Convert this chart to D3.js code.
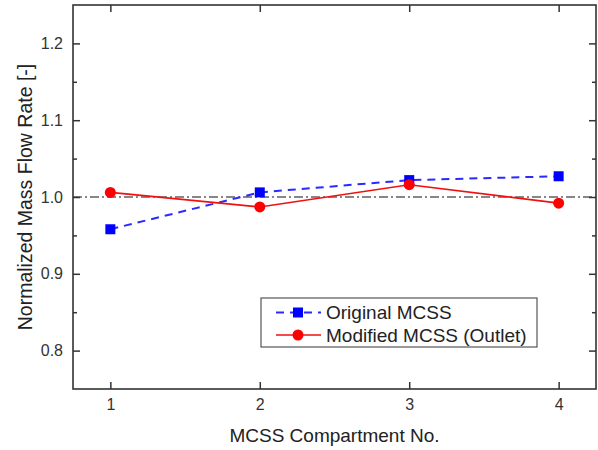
<!DOCTYPE html>
<html>
<head>
<meta charset="utf-8">
<script src="https://cdn.jsdelivr.net/npm/d3@7"></script>
<style>
  body { margin: 0; background: #fff; }
  text { font-family: "Liberation Sans", Arial, sans-serif; fill: #333; }
</style>
</head>
<body>
<div id="chart"></div>
<script>
// data
var compartments = [1, 2, 3, 4];
var originalMCSS = [0.958, 1.006, 1.022, 1.027];
var modifiedMCSS = [1.006, 0.987, 1.016, 0.992];
var yTicks = [0.8, 0.9, 1.0, 1.1, 1.2];
var yMinorTicks = [0.85, 0.95, 1.05, 1.15];
var seriesNames = ["Original MCSS", "Modified MCSS (Outlet)"];

var width = 598, height = 450;
var margin = { top: 5, right: 2, bottom: 61, left: 73 };

var svg = d3.select("#chart").append("svg")
    .attr("width", width)
    .attr("height", height);

var x = d3.scaleLinear()
    .domain([0.75, 4.25])
    .range([margin.left, width - margin.right]);

var y = d3.scaleLinear()
    .domain([0.75, 1.25])
    .range([height - margin.bottom, margin.top]);

// reference line at 1.0
svg.append("line")
    .attr("x1", x(0.75)).attr("x2", x(4.25))
    .attr("y1", y(1.0)).attr("y2", y(1.0))
    .style("stroke", "#111")
    .style("stroke-width", 1.2)
    .style("stroke-dasharray", "9,3,2,3");

// axes, ticks pointing inward
var tickLen = 7;
svg.append("g")
    .attr("transform", "translate(0," + y(0.75) + ")")
    .call(d3.axisBottom(x).tickValues(compartments).tickFormat(d3.format("d")).tickSizeInner(-tickLen).tickSizeOuter(0).tickPadding(10))
    .call(g => g.select(".domain").remove());

svg.append("g")
    .attr("transform", "translate(0," + y(1.25) + ")")
    .call(d3.axisTop(x).tickValues(compartments).tickFormat("").tickSizeInner(-tickLen).tickSizeOuter(0))
    .call(g => g.select(".domain").remove());

svg.append("g")
    .attr("transform", "translate(" + x(0.75) + ",0)")
    .call(d3.axisLeft(y).tickValues(yTicks).tickFormat(d3.format(".1f")).tickSizeInner(-tickLen).tickSizeOuter(0).tickPadding(10))
    .call(g => g.select(".domain").remove());

svg.append("g")
    .attr("transform", "translate(" + x(0.75) + ",0)")
    .call(d3.axisLeft(y).tickValues(yMinorTicks).tickFormat("").tickSizeInner(-4).tickSizeOuter(0))
    .call(g => g.select(".domain").remove());

svg.append("g")
    .attr("transform", "translate(" + x(4.25) + ",0)")
    .call(d3.axisRight(y).tickValues(yTicks).tickFormat("").tickSizeInner(-tickLen).tickSizeOuter(0))
    .call(g => g.select(".domain").remove());

svg.append("g")
    .attr("transform", "translate(" + x(4.25) + ",0)")
    .call(d3.axisRight(y).tickValues(yMinorTicks).tickFormat("").tickSizeInner(-4).tickSizeOuter(0))
    .call(g => g.select(".domain").remove());

svg.selectAll(".tick line").style("stroke", "#333").style("stroke-width", 1.5);
svg.selectAll(".tick text").style("font-size", "16px").style("fill", "#333")
    .style("font-family", "'Liberation Sans', Arial, sans-serif");

// frame
svg.append("rect")
    .attr("x", x(0.75)).attr("y", y(1.25))
    .attr("width", x(4.25) - x(0.75))
    .attr("height", y(0.75) - y(1.25))
    .style("fill", "none")
    .style("stroke", "#333")
    .style("stroke-width", 1.6);

// series
var line = d3.line()
    .x((d, i) => x(compartments[i]))
    .y(d => y(d));

svg.append("path")
    .datum(originalMCSS)
    .attr("d", line)
    .style("fill", "none")
    .style("stroke", "#2a2aff")
    .style("stroke-width", 2)
    .style("stroke-dasharray", "8,6");

svg.append("path")
    .datum(modifiedMCSS)
    .attr("d", line)
    .style("fill", "none")
    .style("stroke", "#f01010")
    .style("stroke-width", 1.6);

svg.append("g").selectAll("rect")
    .data(originalMCSS)
    .enter().append("rect")
    .attr("x", (d, i) => x(compartments[i]) - 5)
    .attr("y", d => y(d) - 5)
    .attr("width", 10).attr("height", 10)
    .style("fill", "#0000ff");

svg.append("g").selectAll("circle")
    .data(modifiedMCSS)
    .enter().append("circle")
    .attr("cx", (d, i) => x(compartments[i]))
    .attr("cy", d => y(d))
    .attr("r", 5.5)
    .style("fill", "#ff0000");

// legend
var legend = svg.append("g").attr("transform", "translate(261,298)");
legend.append("rect")
    .attr("width", 276).attr("height", 49)
    .style("fill", "#fff")
    .style("stroke", "#555")
    .style("stroke-width", 1.2);

var rows = legend.selectAll("g.row")
    .data(seriesNames)
    .enter().append("g")
    .attr("class", "row")
    .attr("transform", (d, i) => "translate(0," + (14.5 + i * 22.5) + ")");

rows.append("line")
    .attr("x1", 15).attr("x2", 60)
    .style("stroke", (d, i) => i === 0 ? "#2a2aff" : "#f01010")
    .style("stroke-width", (d, i) => i === 0 ? 2 : 1.6)
    .style("stroke-dasharray", (d, i) => i === 0 ? "8,6" : null);

rows.filter((d, i) => i === 0).append("rect")
    .attr("x", 32).attr("y", -5).attr("width", 10).attr("height", 10)
    .style("fill", "#0000ff");

rows.filter((d, i) => i === 1).append("circle")
    .attr("cx", 37).attr("r", 5.5)
    .style("fill", "#ff0000");

rows.append("text")
    .attr("x", 65).attr("dy", "0.35em")
    .style("font-size", "19px")
    .style("fill", "#222")
    .text(d => d);

// axis titles
svg.append("text")
    .attr("x", x(2.5)).attr("y", 442)
    .attr("text-anchor", "middle")
    .style("font-size", "19px")
    .style("fill", "#222")
    .text("MCSS Compartment No.");

svg.append("text")
    .attr("transform", "translate(32," + y(1.0) + ") rotate(-90)")
    .attr("text-anchor", "middle")
    .style("font-size", "19.5px")
    .style("fill", "#222")
    .text("Normalized Mass Flow Rate [-]");
</script>
</body>
</html>
